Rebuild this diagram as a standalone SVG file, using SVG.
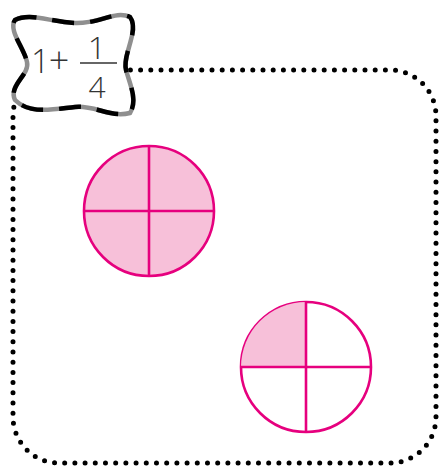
<svg xmlns="http://www.w3.org/2000/svg" width="440" height="466" viewBox="0 0 440 466">
<style>
.frame{fill:none;stroke:#000;stroke-width:5;stroke-linecap:round;stroke-dasharray:0 10.2}
.pie{stroke:#E6007E;stroke-width:2.6}
.full{fill:#F7C0D9}
.empty{fill:#fff}
.line{fill:none;stroke:#E6007E;stroke-width:2.6}
.blob-g{fill:#fff;stroke:#8f8f8f;stroke-width:4.5}
.blob-b{fill:none;stroke:#000;stroke-width:4.5;stroke-dasharray:22 16}
.t{font-family:"Open Sans","Liberation Sans",sans-serif;font-weight:300;fill:#333}
</style>
<rect width="440" height="466" fill="#fff"/>
<g id="frame">
<rect class="frame" x="13" y="70" width="423" height="393" rx="46"/>
</g>
<g id="label">
<path class="blob-g" d="M15,20 C30,12 50,22 75,23 C100,24 115,10 130,17 C140,30 122,55 126,70 C130,85 138,100 130,113 C110,118 95,105 75,107 C55,109 30,115 15,100 C8,85 30,75 27,62 C24,48 8,30 15,20 Z"/>
<path class="blob-b" d="M15,20 C30,12 50,22 75,23 C100,24 115,10 130,17 C140,30 122,55 126,70 C130,85 138,100 130,113 C110,118 95,105 75,107 C55,109 30,115 15,100 C8,85 30,75 27,62 C24,48 8,30 15,20 Z"/>
<text class="t" x="31" y="73" font-size="33" letter-spacing="-1">1<tspan font-size="36">+</tspan></text>
<line x1="80" y1="63" x2="117" y2="63" stroke="#333" stroke-width="1.6"/>
<text class="t" x="97" y="59" font-size="32" text-anchor="middle">1</text>
<text class="t" x="97" y="98" font-size="30" text-anchor="middle">4</text>
</g>
<g id="circle1">
<circle class="pie full" cx="149" cy="211" r="65"/>
<line class="line" x1="84" y1="211" x2="214" y2="211"/>
<line class="line" x1="149" y1="146" x2="149" y2="276"/>
</g>
<g id="circle2">
<circle class="pie empty" cx="306" cy="367" r="65"/>
<path class="full" d="M306,367 L241,367 A65,65 0 0 1 306,302 Z"/>
<line class="line" x1="241" y1="367" x2="371" y2="367"/>
<line class="line" x1="306" y1="302" x2="306" y2="432"/>
</g>
</svg>
